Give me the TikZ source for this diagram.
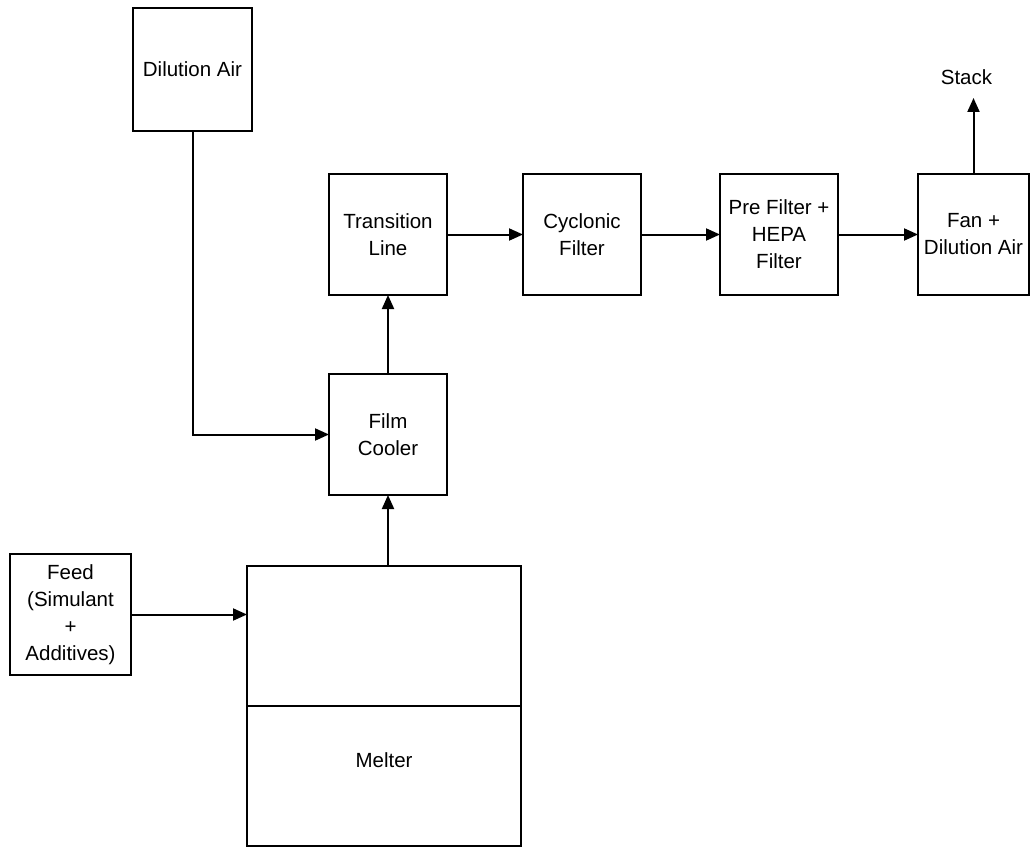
\documentclass[tikz,border=0pt]{standalone}
\usepackage{fontspec}
\setmainfont{Liberation Sans}
\usepackage{tikz}
\usetikzlibrary{arrows.meta,positioning,calc}

\begin{document}
\begin{tikzpicture}[
  x=1pt, y=1pt,
  block/.style={rectangle, draw, line width=2pt, outer sep=0pt, inner sep=2pt, minimum width=118pt, minimum height=121pt, align=center, font=\fontsize{20.5}{27}\selectfont},
  txt/.style={inner sep=3pt, font=\fontsize{20.5}{27}\selectfont},
  arrow/.style={-{Triangle[length=14pt,width=12pt]}, line width=2pt}
]
\useasboundingbox (0,0) rectangle (1031,-848);

% Top row
\node[block, minimum width=119pt, minimum height=123pt] (dil) at (192.5,-69.5) {Dilution Air};
\node[block] (trans) at (388,-234.5) {Transition\\Line};
\node[block, right=76pt of trans] (cyc) {Cyclonic\\Filter};
\node[block, right=79pt of cyc] (pre) {Pre Filter +\\HEPA\\Filter};
\node[block, minimum width=111pt, right=80pt of pre] (fan) {Fan +\\Dilution Air};
\node[txt, above=86pt of fan, xshift=-7pt] (stack) {Stack};

% Cooler, feed and melter
\node[block, below=79pt of trans] (cool) {Film\\Cooler};
\node[block, minimum width=121pt] (feed) at (70.5,-614.5) {Feed\\(Simulant\\+\\Additives)};
\node[block, minimum width=274pt, minimum height=140pt] (melttop) at (384,-636) {};
\node[block, minimum width=274pt, minimum height=140pt, below=0pt of melttop] (meltbot) {};
\node[txt] (melttxt) at ([yshift=16pt]meltbot.center) {Melter};

% Arrows
\draw[arrow] (trans) -- (cyc);
\draw[arrow] (cyc) -- (pre);
\draw[arrow] (pre) -- (fan);
\draw[arrow, shorten >=10pt] (fan.north) -- (fan.north |- stack.south);
\draw[arrow] (cool) -- (trans);
\draw[arrow] (melttop.north -| cool) -- (cool);
\draw[arrow] (dil) |- (cool);
\draw[arrow] (feed) -- (feed -| melttop.west);

\end{tikzpicture}
\end{document}
